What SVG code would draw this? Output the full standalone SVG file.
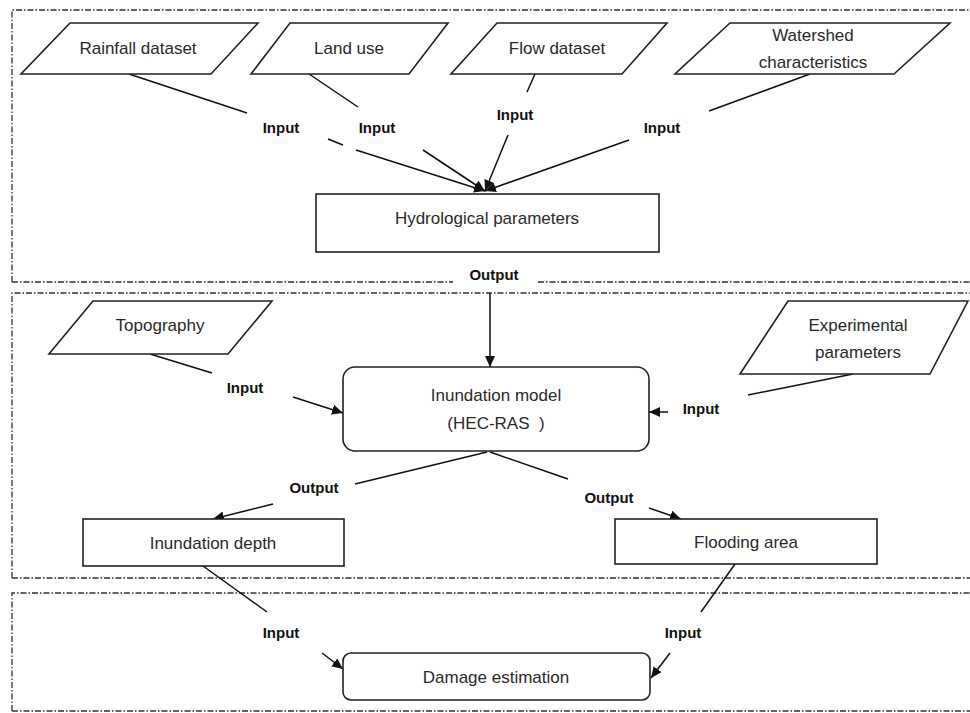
<svg xmlns="http://www.w3.org/2000/svg" width="970" height="713" viewBox="0 0 970 713">
<style>
.frame{fill:none;stroke:#333;stroke-width:1.3;stroke-dasharray:6 2 1.5 2}
.shape{fill:#fff;stroke:#222;stroke-width:1.6}
.t{font-family:"Liberation Sans",Arial,sans-serif;font-size:17px;fill:#2a2a2a;text-anchor:middle}
.lb{font-family:"Liberation Sans",Arial,sans-serif;font-size:15px;font-weight:bold;fill:#111;text-anchor:middle}
.c{fill:none;stroke:#111;stroke-width:1.5}
.a{marker-end:url(#ah)}
</style>
<defs>
<marker id="ah" markerUnits="userSpaceOnUse" markerWidth="11" markerHeight="10" refX="11" refY="5" orient="auto">
<path d="M0,0 L11,5 L0,10 z" fill="#111"/>
</marker>
</defs>
<rect width="970" height="713" fill="#fff"/>
<g id="frames">
<path class="frame" d="M12,282 V10 H970"/>
<path class="frame" d="M12,282 H453 M538,282 H970"/>
<path class="frame" d="M12,578 V293 H970"/>
<path class="frame" d="M12,578 H970"/>
<path class="frame" d="M12,711 V593 H970"/>
<path class="frame" d="M12,711 H970"/>
</g>
<g id="connectors">
<path class="c" d="M129,74 L247,113"/>
<path class="c" d="M328,139 L343,145"/>
<path class="c a" d="M356,150 L485,191"/>
<path class="c" d="M309,74 L358,107"/>
<path class="c a" d="M423,150 L485,191"/>
<path class="c" d="M535,74 L527,92"/>
<path class="c a" d="M508,135 L485,191"/>
<path class="c" d="M810,74 L709,111"/>
<path class="c a" d="M629,140 L485,191"/>
<path class="c a" d="M490,293 L490,367"/>
<path class="c" d="M150,354 L212,373"/>
<path class="c a" d="M293,397 L343,413"/>
<path class="c" d="M853,374 L748,395"/>
<path class="c a" d="M668,412 L649,412"/>
<path class="c" d="M487,452 L355,484"/>
<path class="c a" d="M273,504 L213,519"/>
<path class="c" d="M490,452 L568,479"/>
<path class="c a" d="M649,508 L681,519"/>
<path class="c" d="M203,566 L267,612"/>
<path class="c a" d="M322,653 L343,669"/>
<path class="c" d="M735,564 L701,612"/>
<path class="c a" d="M670,653 L651,678"/>
</g>
<g id="labels">
<text class="lb" x="281" y="133">Input</text>
<text class="lb" x="377" y="133">Input</text>
<text class="lb" x="515" y="120">Input</text>
<text class="lb" x="662" y="133">Input</text>
<text class="lb" x="494" y="280">Output</text>
<text class="lb" x="245" y="393">Input</text>
<text class="lb" x="701" y="414">Input</text>
<text class="lb" x="314" y="493">Output</text>
<text class="lb" x="609" y="503">Output</text>
<text class="lb" x="281" y="638">Input</text>
<text class="lb" x="683" y="638">Input</text>
</g>
<g id="rainfall">
<polygon class="shape" points="70,23 258,23 211,74 21,74"/>
<text class="t" x="138" y="54">Rainfall dataset</text>
</g>
<g id="landuse">
<polygon class="shape" points="290,23 448,23 409,74 251,74"/>
<text class="t" x="349" y="54">Land use</text>
</g>
<g id="flow">
<polygon class="shape" points="497,23 667,23 622,74 451,74"/>
<text class="t" x="557" y="54">Flow dataset</text>
</g>
<g id="watershed">
<polygon class="shape" points="730,23 950,23 894,74 675,74"/>
<text class="t" x="813" y="41">Watershed</text>
<text class="t" x="813" y="68">characteristics</text>
</g>
<g id="hydro">
<rect class="shape" x="316" y="194" width="343" height="58"/>
<text class="t" x="487" y="224">Hydrological parameters</text>
</g>
<g id="topography">
<polygon class="shape" points="93,301 272,301 228,354 49,354"/>
<text class="t" x="160" y="331">Topography</text>
</g>
<g id="experimental">
<polygon class="shape" points="788,301 968,301 930,374 740,374"/>
<text class="t" x="858" y="331">Experimental</text>
<text class="t" x="858" y="358">parameters</text>
</g>
<g id="inundation">
<rect class="shape" x="343" y="367" width="306" height="84" rx="12"/>
<text class="t" x="496" y="401">Inundation model</text>
<text class="t" x="496" y="429" xml:space="preserve">(HEC-RAS  )</text>
</g>
<g id="depth">
<rect class="shape" x="83" y="519" width="261" height="47"/>
<text class="t" x="213" y="549">Inundation depth</text>
</g>
<g id="flooding">
<rect class="shape" x="615" y="519" width="262" height="45"/>
<text class="t" x="746" y="548">Flooding area</text>
</g>
<g id="damage">
<rect class="shape" x="343" y="653" width="307" height="47" rx="8"/>
<text class="t" x="496" y="683">Damage estimation</text>
</g>
</svg>
